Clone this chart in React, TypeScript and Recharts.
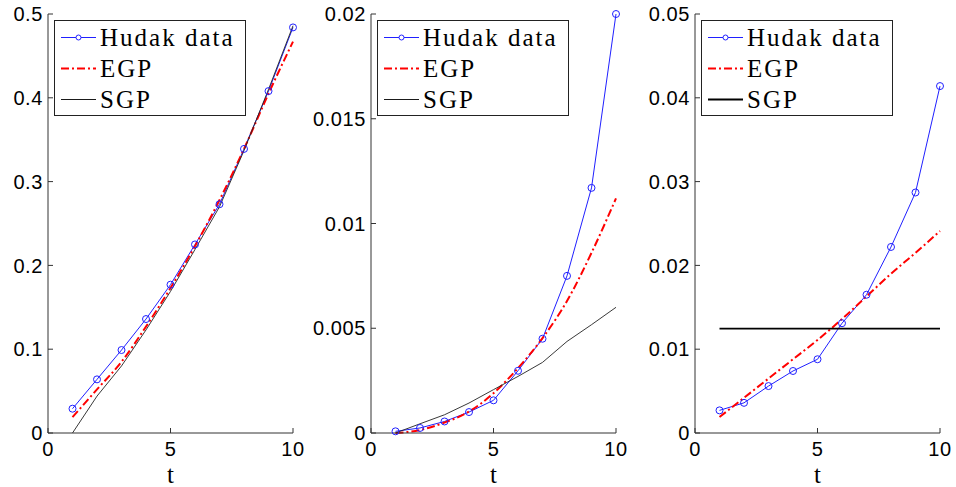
import React from "react";
import { LineChart, Line, XAxis, YAxis, Legend } from "recharts";

// time steps shared by all three panels
const tSteps = [1, 2, 3, 4, 5, 6, 7, 8, 9, 10];

// panel 1
const hudakA = [0.029, 0.064, 0.099, 0.136, 0.177, 0.225, 0.273, 0.339, 0.408, 0.484];
const egpA = [0.019, 0.052, 0.085, 0.127, 0.173, 0.223, 0.278, 0.339, 0.405, 0.467];
const sgpA = [0.0, 0.044, 0.08, 0.123, 0.169, 0.219, 0.27, 0.337, 0.41, 0.486];

// panel 2
const hudakB = [0.00008, 0.00024, 0.00055, 0.001, 0.00156, 0.00297, 0.0045, 0.0075, 0.0117, 0.02];
const egpB = [0.0, 0.00014, 0.0005, 0.00102, 0.0019, 0.0031, 0.00453, 0.0063, 0.0086, 0.0112];
const sgpB = [0.0, 0.00044, 0.00087, 0.00143, 0.00207, 0.0027, 0.00337, 0.00437, 0.00517, 0.006];

// panel 3
const hudakC = [0.0027, 0.0036, 0.0056, 0.0074, 0.0088, 0.0131, 0.0165, 0.0222, 0.0287, 0.0414];
const egpC = [0.0019, 0.0042, 0.0065, 0.0088, 0.0111, 0.0136, 0.0163, 0.019, 0.0215, 0.0241];
const sgpC = [0.01245, 0.01245, 0.01245, 0.01245, 0.01245, 0.01245, 0.01245, 0.01245, 0.01245, 0.01245];

const xTicks = [0, 5, 10];
const yTicksA = [0, 0.1, 0.2, 0.3, 0.4, 0.5];
const yTicksB = [0, 0.005, 0.01, 0.015, 0.02];
const yTicksC = [0, 0.01, 0.02, 0.03, 0.04, 0.05];

const seriesNames = { hudak: "Hudak data", egp: "EGP", sgp: "SGP" };
const legendOrder = ["hudak", "egp", "sgp"];

const BLUE = "#2020ff";
const RED = "#ff0000";
const AXIS = "#333";
const SANS = "'Liberation Sans', Arial, sans-serif";
const SERIF = "'Liberation Serif', 'Times New Roman', serif";

const makeRows = (h: number[], e: number[], s: number[]) =>
  tSteps.map((t, i) => ({ t, hudak: h[i], egp: e[i], sgp: s[i] }));

function LegendBox({ payload, sgpWidth }: any) {
  const items = [...(payload || [])].sort(
    (a: any, b: any) => legendOrder.indexOf(a.dataKey) - legendOrder.indexOf(b.dataKey)
  );
  return (
    <div
      style={{
        boxSizing: "border-box",
        width: 192,
        height: 96,
        border: "1px solid #222",
        background: "#fff",
        paddingTop: 1,
      }}
    >
      {items.map((entry: any) => {
        const key = entry.dataKey;
        return (
          <div key={key} style={{ display: "flex", alignItems: "center", height: 31 }}>
            <svg width={41} height={31} style={{ display: "block" }}>
              {key === "hudak" && (
                <>
                  <line x1={6} x2={41} y1={15.5} y2={15.5} stroke={BLUE} strokeWidth={1} />
                  <circle cx={23.5} cy={15.5} r={2.5} fill="#fff" stroke={BLUE} strokeWidth={1} />
                </>
              )}
              {key === "egp" && (
                <line x1={6} x2={41} y1={15.5} y2={15.5} stroke={RED} strokeWidth={2} strokeDasharray="8 3 2 3" />
              )}
              {key === "sgp" && (
                <line x1={6} x2={41} y1={15.5} y2={15.5} stroke="#000" strokeWidth={sgpWidth} />
              )}
            </svg>
            <span
              style={{
                marginLeft: 4,
                fontFamily: SERIF,
                fontSize: 25,
                lineHeight: "31px",
                letterSpacing: 2,
                color: "#000",
                whiteSpace: "nowrap",
              }}
            >
              {entry.value}
            </span>
          </div>
        );
      })}
    </div>
  );
}

function Panel({ rows, yTicks, plotLeft, sgpWidth, sgpColor }: any) {
  const yDomain = [yTicks[0], yTicks[yTicks.length - 1]];
  const tickFont = { fill: "#000", fontSize: 20, fontFamily: SANS, letterSpacing: 0.6 };
  return (
    <div style={{ position: "absolute", left: plotLeft - 60, top: 0 }}>
      <LineChart width={325} height={487} data={rows} margin={{ top: 14, right: 20, bottom: 0, left: 0 }}>
        <XAxis
          xAxisId="b"
          dataKey="t"
          type="number"
          domain={[0, 10]}
          ticks={xTicks}
          interval={0}
          height={54}
          tickSize={-5}
          tickMargin={14}
          stroke={AXIS}
          tick={tickFont}
          label={{ value: "t", position: "insideBottom", offset: 4, fill: "#000", fontSize: 25, fontFamily: SERIF }}
        />
        <XAxis
          xAxisId="top"
          orientation="top"
          dataKey="t"
          type="number"
          domain={[0, 10]}
          ticks={xTicks}
          interval={0}
          height={0}
          tickSize={-5}
          tick={false}
          stroke={AXIS}
        />
        <YAxis
          yAxisId="l"
          type="number"
          domain={yDomain}
          ticks={yTicks}
          interval={0}
          width={60}
          tickSize={-5}
          tickMargin={10}
          stroke={AXIS}
          tick={tickFont}
        />
        <YAxis
          yAxisId="r"
          orientation="right"
          type="number"
          domain={yDomain}
          ticks={yTicks}
          interval={0}
          width={0}
          tickSize={-5}
          tick={false}
          stroke={AXIS}
        />
        <Legend
          layout="horizontal"
          verticalAlign="middle"
          align="center"
          wrapperStyle={{ left: 66, top: 20, width: 192, height: 96 }}
          content={(p: any) => <LegendBox payload={p.payload} sgpWidth={sgpWidth} />}
        />
        <Line
          xAxisId="b"
          yAxisId="l"
          dataKey="hudak"
          name={seriesNames.hudak}
          type="linear"
          stroke={BLUE}
          strokeWidth={1}
          dot={{ r: 3.5, fill: "none", stroke: BLUE, strokeWidth: 1 }}
          activeDot={false}
          isAnimationActive={false}
        />
        <Line
          xAxisId="b"
          yAxisId="l"
          dataKey="egp"
          name={seriesNames.egp}
          type="monotone"
          stroke={RED}
          strokeWidth={2}
          strokeDasharray="8 3 2 3"
          dot={false}
          activeDot={false}
          isAnimationActive={false}
        />
        <Line
          xAxisId="b"
          yAxisId="l"
          dataKey="sgp"
          name={seriesNames.sgp}
          type="linear"
          stroke={sgpColor}
          strokeWidth={sgpWidth}
          dot={false}
          activeDot={false}
          isAnimationActive={false}
        />
      </LineChart>
    </div>
  );
}

export default function App() {
  return (
    <div style={{ position: "absolute", left: 0, top: 0, width: 956, height: 487, background: "#fff" }}>
      <Panel rows={makeRows(hudakA, egpA, sgpA)} yTicks={yTicksA} plotLeft={48} sgpWidth={0.9} sgpColor="#222" />
      <Panel rows={makeRows(hudakB, egpB, sgpB)} yTicks={yTicksB} plotLeft={371} sgpWidth={0.9} sgpColor="#222" />
      <Panel rows={makeRows(hudakC, egpC, sgpC)} yTicks={yTicksC} plotLeft={695} sgpWidth={1.8} sgpColor="#000" />
    </div>
  );
}
